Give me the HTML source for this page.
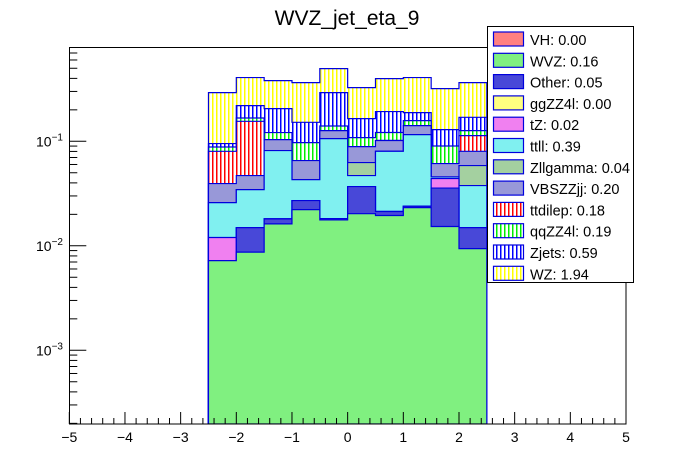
<!DOCTYPE html>
<html><head><meta charset="utf-8"><style>
body{margin:0;background:#fff;}
svg{display:block;font-family:"Liberation Sans",Arial,sans-serif;}
</style></head><body>
<svg id="chart" width="696" height="472" viewBox="0 0 696 472" xmlns="http://www.w3.org/2000/svg">
<defs>
<pattern id="p-ttdi" patternUnits="userSpaceOnUse" width="4" height="4"><rect width="4" height="4" fill="#fff"/><rect width="1.5" height="4" fill="#ff0000"/></pattern>
<pattern id="p-qqzz" patternUnits="userSpaceOnUse" width="4" height="4"><rect width="4" height="4" fill="#fff"/><rect width="1.5" height="4" fill="#00ee00"/></pattern>
<pattern id="p-zjets" patternUnits="userSpaceOnUse" width="4" height="4"><rect width="4" height="4" fill="#fff"/><rect width="1.5" height="4" fill="#0000ff"/></pattern>
<pattern id="p-wz" patternUnits="userSpaceOnUse" width="4" height="4"><rect width="4" height="4" fill="#fff"/><rect width="1.5" height="4" fill="#ffff00"/></pattern>
<clipPath id="plotclip"><rect x="69" y="47" width="557" height="377"/></clipPath>
</defs>
<text x="347" y="25" font-size="21" text-anchor="middle" fill="#000">WVZ_jet_eta_9</text>
<g id="bars" clip-path="url(#plotclip)"></g>
<rect x="69.5" y="47.5" width="556.5" height="376.5" fill="none" stroke="#000" stroke-width="1"/>
<g id="axes"></g>
<g id="legend"></g>
</svg>
<script>
// bin edges: -2.5 .. 2.5 step 0.5
const binLow = [-2.5,-2,-1.5,-1,-0.5,0,0.5,1,1.5,2];
const seriesNames = ["VH","WVZ","Other","ggZZ4l","tZ","ttll","Zllgamma","VBSZZjj","ttdilep","qqZZ4l","Zjets","WZ"];
const legendLabels = ["VH: 0.00","WVZ: 0.16","Other: 0.05","ggZZ4l: 0.00","tZ: 0.02","ttll: 0.39","Zllgamma: 0.04","VBSZZjj: 0.20","ttdilep: 0.18","qqZZ4l: 0.19","Zjets: 0.59","WZ: 1.94"];
const VH       = [0,0,0,0,0,0,0,0,0,0];
const WVZ      = [0.0072,0.0087,0.0162,0.0222,0.0177,0.0203,0.0195,0.0232,0.0153,0.0094];
const Other    = [0,0.0062,0.0019,0.0049,0.0005,0.0166,0.0018,0.0007,0.0204,0.0055];
const ggZZ4l   = [0,0,0,0,0,0,0,0,0,0];
const tZ       = [0.0048,0,0,0,0,0,0,0,0.0083,0];
const ttll     = [0.0139,0.0196,0.0634,0.0159,0.0879,0.0101,0.059,0.092,0.0016,0.0228];
const Zllgamma = [0,0,0,0,0,0.0156,0,0,0,0.0209];
const VBSZZjj  = [0.0135,0.0125,0.0223,0.0224,0.0205,0.0264,0.0214,0.0254,0.0156,0.0216];
const ttdilep  = [0.0408,0.1084,0,0,0,0,0,0,0,0.0332];
const qqZZ4l   = [0.008,0.0117,0.0174,0.0318,0.0135,0.0195,0.0196,0.0165,0.029,0.0132];
const Zjets    = [0.0069,0.0525,0.0843,0.0547,0.1523,0.0564,0.0712,0.0304,0.0392,0.0431];
const WZ       = [0.197,0.1875,0.1754,0.2126,0.2039,0.1616,0.2057,0.2189,0.19,0.1948];
const xTickLabels = ["−5","−4","−3","−2","−1","0","1","2","3","4","5"];
const yTickLabels = ["−3","−2","−1"];

const NS="http://www.w3.org/2000/svg";
const X0=69.3, X1=626, XMIN=-5, XMAX=5;
const Y_BOT=424, DEC=104.5, YREF=141.3; // y of 1e-1
const BW=0.5;
function xs(v){return X0+(v-XMIN)/(XMAX-XMIN)*(X1-X0);}
function ys(v){ if(v<=0) return 1000; return YREF-(Math.log10(v)+1)*DEC; }
function mk(tag,attrs,parent){const e=document.createElementNS(NS,tag);for(const k in attrs)e.setAttribute(k,attrs[k]);parent.appendChild(e);return e;}

const seriesData=[VH,WVZ,Other,ggZZ4l,tZ,ttll,Zllgamma,VBSZZjj,ttdilep,qqZZ4l,Zjets,WZ];
const fills=["#ff8080","#80f080","#4848d8","#ffff80","#f080f0","#80f0f0","#a4d0a0","#9898d8","url(#p-ttdi)","url(#p-qqzz)","url(#p-zjets)","url(#p-wz)"];
const bars=document.getElementById('bars');
const cum=[]; let run=binLow.map(()=>0);
seriesData.forEach(s=>{run=run.map((r,i)=>r+s[i]);cum.push(run.slice());});
for(let k=seriesData.length-1;k>=0;k--){
  const top=cum[k];
  if(top.every(v=>v<=0)) continue;
  let d="M"+xs(binLow[0])+","+Y_BOT;
  binLow.forEach((b,i)=>{const y=Math.min(ys(top[i]),Y_BOT);d+=" L"+xs(b)+","+y+" L"+xs(b+BW)+","+y;});
  d+=" L"+xs(binLow[binLow.length-1]+BW)+","+Y_BOT+" Z";
  const p=mk('path',{d:d,fill:fills[k],stroke:"#0000dd","stroke-width":"1.2"},bars);
  
  
}
const ax=document.getElementById('axes');
for(let v=-5;v<=5.0001;v+=0.2){
  const x=xs(v); const major=Math.abs(v-Math.round(v))<1e-6;
  const t=mk('line',{x1:x,x2:x,y1:Y_BOT,y2:Y_BOT-(major?12:6),stroke:"#000","stroke-width":"1"},ax);
  
  
}
xTickLabels.forEach((l,i)=>{
  const t=mk('text',{x:xs(-5+i),y:442,"font-size":"14","text-anchor":"middle",fill:"#000"},ax);
  t.textContent=l;
  
  
});
for(let dec=-4;dec<=-1;dec++){
  for(let m=1;m<=9;m++){
    const v=m*Math.pow(10,dec); const y=ys(v);
    if(y>Y_BOT||y<47) continue;
    const t=mk('line',{x1:X0,x2:X0+(m===1?17:8),y1:y,y2:y,stroke:"#000","stroke-width":"1"},ax);
    
    
  }
}
yTickLabels.forEach((l,i)=>{
  const y=ys(Math.pow(10,-3+i));
  const t=mk('text',{x:36,y:y+5,"font-size":"14",fill:"#000"},ax);
  
  
  t.textContent="10";
  const s=mk('tspan',{dy:"-6","font-size":"10"},t); s.textContent=l;
});
const lg=document.getElementById('legend');
const bg=mk('rect',{x:487.5,y:26.5,width:146,height:256,fill:"#fff",stroke:"#000","stroke-width":"1"},lg);


legendLabels.forEach((l,i)=>{
  const y=32+i*21.3;
  const r=mk('rect',{x:493.5,y:y,width:30,height:14,fill:fills[i],stroke:"#0000dd","stroke-width":"1.2"},lg);
  
  
  const t=mk('text',{x:530,y:y+13,"font-size":"14.5",fill:"#000"},lg);
  t.textContent=l;
  
  
});
</script>
</body></html>
